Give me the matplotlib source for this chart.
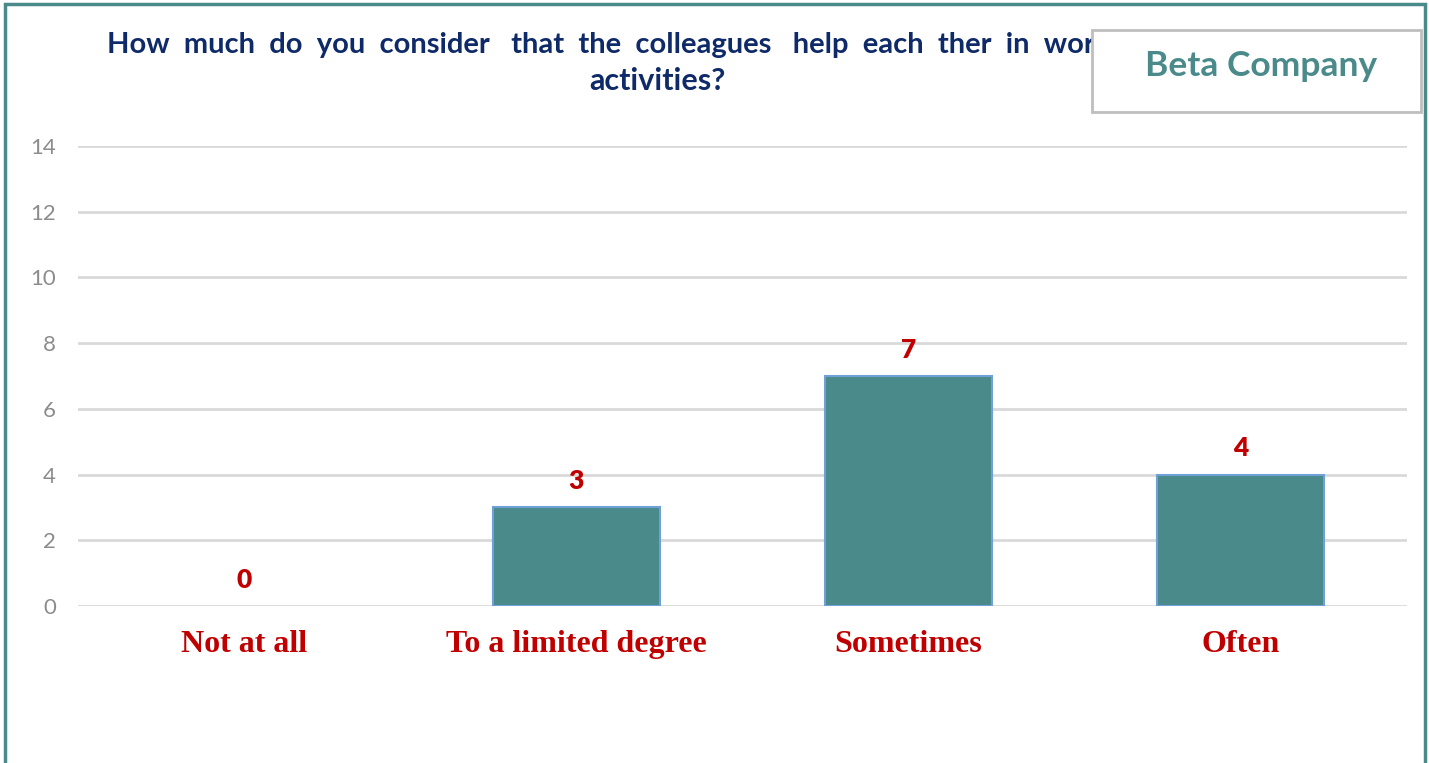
import matplotlib.pyplot as plt
from matplotlib.patches import Rectangle
from matplotlib.transforms import Bbox, TransformedBbox
import numpy as np

categories = ['Not at all', 'To a limited degree', 'Sometimes', 'Often']
counts = [0, 3, 7, 4]
y_ticks = [0, 2, 4, 6, 8, 10, 12, 14]
title_lines = ['How  much  do  you  consider   that  the  colleagues   help  each  ther  in  work',
               'activities?']
company = 'Beta Company'

teal = '#4a8a8a'
red = '#c00000'
navy = '#0f2a68'

fig = plt.figure(figsize=(14.29, 7.63), dpi=100)
ax = fig.add_axes([78 / 1429, 157 / 763, 1329 / 1429, 460 / 763])

x = np.arange(len(categories))
edges = ['#6fa0d8' if v > 0 else 'none' for v in counts]
ax.bar(x, counts, width=0.503, color=teal, edgecolor=edges, linewidth=1.5, zorder=3)

ax.set_xlim(-0.5, len(categories) - 0.5)
ax.set_ylim(0, 14)
ax.set_yticks(y_ticks)
ax.set_yticklabels([str(t) for t in y_ticks], color='#8c8c8c', fontsize=16, family='Lato')
ax.set_xticks(x)
ax.set_xticklabels(categories, color=red, fontsize=23, fontweight='bold', family='Liberation Serif')
ax.tick_params(axis='both', length=0)
ax.tick_params(axis='y', pad=16)
ax.tick_params(axis='x', pad=17)
ax.grid(axis='y', color='#d9d9d9', linewidth=2, zorder=0)
ax.set_axisbelow(True)
for s in ax.spines.values():
    s.set_visible(False)

for xi, v in zip(x, counts):
    ax.annotate(str(v), (xi, v), xytext=(0, 19), textcoords='offset points',
                ha='center', va='center', color=red, fontsize=19, fontweight='heavy', family='Lato')

# title: first line runs under the company box, so clip it at the box edge
box_left = 1092 / 1429
t1 = fig.text(107 / 1429, 1 - 45 / 763, title_lines[0], ha='left', va='center', color=navy,
              fontsize=21, fontweight='bold', family='Lato')
t1.set_clip_box(TransformedBbox(Bbox([[0, 0], [box_left, 1]]), fig.transFigure))
t1.set_clip_on(True)
fig.text(657 / 1429, 1 - 81 / 763, title_lines[1], ha='center', va='center', color=navy,
         fontsize=22, fontweight='bold', family='Lato')

# company box
fig.patches.append(Rectangle((box_left, 1 - 112 / 763), 329 / 1429, 82 / 763,
                             transform=fig.transFigure, facecolor='white',
                             edgecolor='#bfbfbf', linewidth=2, zorder=5))
fig.text(1261 / 1429, 1 - 66 / 763, company, ha='center', va='center', color=teal,
         fontsize=25.5, fontweight='bold', family='Lato', zorder=6)

# outer frame, open at the bottom
fig.patches.append(Rectangle((5 / 1429, -0.05), 1420 / 1429, 1.05 - 4 / 763,
                             transform=fig.transFigure, facecolor='none',
                             edgecolor=teal, linewidth=2.5, zorder=7))

fig.savefig('out.png', dpi=100)
